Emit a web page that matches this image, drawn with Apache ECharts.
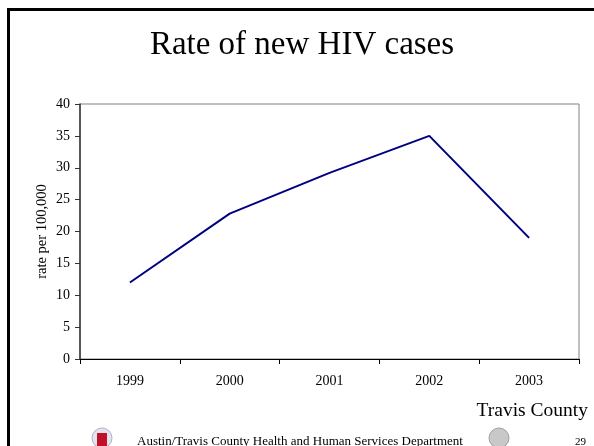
<!DOCTYPE html>
<html>
<head>
<meta charset="utf-8">
<script src="https://cdn.jsdelivr.net/npm/echarts@6/dist/echarts.min.js"></script>
<style>
  html, body { margin: 0; padding: 0; background: #fff; }
  #main { width: 594px; height: 446px; }
</style>
</head>
<body>
<div id="main"></div>
<script>
  // data
  var years = ['1999', '2000', '2001', '2002', '2003'];
  var rates = [12.0, 22.8, 29.2, 35.0, 19.0];
  var yTicks = { min: 0, max: 40, interval: 5 };

  var serif = '"Liberation Serif", "DejaVu Serif", serif';

  var chart = echarts.init(document.getElementById('main'));
  chart.setOption({
    animation: false,
    backgroundColor: '#fff',
    title: {
      text: 'Rate of new HIV cases',
      left: 297,
      textAlign: 'center',
      top: 24,
      textStyle: { fontFamily: serif, fontSize: 33, fontWeight: 'normal', color: '#000' }
    },
    grid: { left: 80, top: 104, right: 15, bottom: 87, show: true, borderColor: '#808080', borderWidth: 1 },
    xAxis: {
      type: 'category',
      data: years,
      boundaryGap: true,
      axisLine: { lineStyle: { color: '#000', width: 1 } },
      axisTick: { show: true, inside: false, length: 5, lineStyle: { color: '#000' } },
      axisLabel: { margin: 15, fontFamily: serif, fontSize: 14, color: '#000' },
      splitLine: { show: false }
    },
    yAxis: {
      type: 'value',
      min: yTicks.min,
      max: yTicks.max,
      interval: yTicks.interval,
      name: 'rate per 100,000',
      nameLocation: 'middle',
      nameGap: 30,
      nameMoveOverlap: false,
      nameTextStyle: { fontFamily: serif, fontSize: 14.5, color: '#000' },
      axisLine: { show: true, lineStyle: { color: '#333', width: 1.5 } },
      axisTick: { show: true, inside: false, length: 5, lineStyle: { color: '#333' } },
      axisLabel: { margin: 10, fontFamily: serif, fontSize: 14, color: '#000' },
      splitLine: { show: false }
    },
    series: [{
      type: 'line',
      data: rates,
      symbol: 'none',
      lineStyle: { color: '#000080', width: 2 }
    }],
    graphic: [
      // slide frame
      { type: 'line', shape: { x1: 8, y1: 9.5, x2: 594, y2: 9.5 }, style: { stroke: '#000', lineWidth: 3 } },
      { type: 'line', shape: { x1: 8.5, y1: 8, x2: 8.5, y2: 446 }, style: { stroke: '#000', lineWidth: 3 } },
      { type: 'text', right: 6, top: 401, style: { text: 'Travis County', font: '19.5px ' + serif, fill: '#000' } },
      { type: 'text', left: 137, top: 435, style: { text: 'Austin/Travis County Health and Human Services Department', font: '13px ' + serif, fill: '#000' } },
      { type: 'text', left: 575, top: 437, style: { text: '29', font: '11px ' + serif, fill: '#000' } },
      // logos
      { type: 'circle', shape: { cx: 102, cy: 438, r: 10 }, style: { fill: '#e4e4ee', stroke: '#b0b0c8', lineWidth: 1 } },
      { type: 'rect', shape: { x: 97, y: 433, width: 10, height: 13 }, style: { fill: '#c0102a' } },
      { type: 'circle', shape: { cx: 499, cy: 438, r: 10 }, style: { fill: '#c8c8c8', stroke: '#a0a0a0', lineWidth: 1 } }
    ]
  });
</script>
</body>
</html>
